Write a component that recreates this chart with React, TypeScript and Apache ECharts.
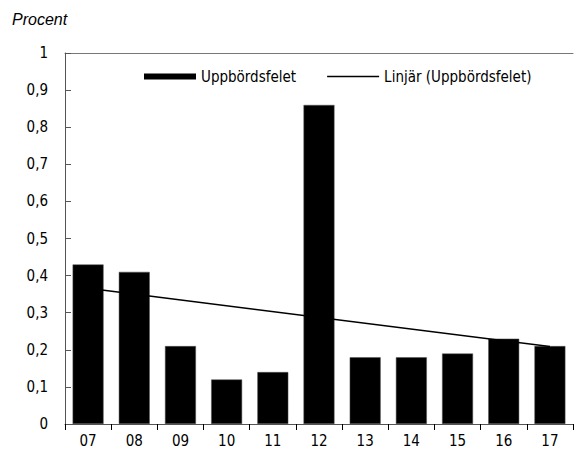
import React, { useEffect, useRef } from "react";
import * as echarts from "echarts";

const categories = ["07", "08", "09", "10", "11", "12", "13", "14", "15", "16", "17"];
const barValues = [0.43, 0.41, 0.21, 0.12, 0.14, 0.86, 0.18, 0.18, 0.19, 0.23, 0.21];
// Linear trend: start and end points
const trendValues = [0.366, null, null, null, null, null, null, null, null, null, 0.209];
const barName = "Uppbördsfelet";
const trendName = "Linjär (Uppbördsfelet)";
const yTitle = "Procent";

const FONT = "'DejaVu Sans Condensed', 'Liberation Sans Narrow', sans-serif";

export default function App() {
  const ref = useRef<HTMLDivElement>(null);
  useEffect(() => {
    if (!ref.current) return;
    const chart = echarts.init(ref.current, null, { renderer: "svg" });
    chart.setOption({
      animation: false,
      backgroundColor: "#fff",
      grid: { left: 65, top: 53, right: 1, bottom: 31 },
      graphic: [
        {
          type: "text",
          left: 12,
          top: 11,
          style: { text: yTitle, font: "italic 16px 'Liberation Sans', Arial, sans-serif", fill: "#000" },
        },
      ],
      legend: {
        left: 139,
        top: 64,
        itemWidth: 52,
        itemHeight: 6,
        itemGap: 31,
        textStyle: { fontFamily: FONT, fontSize: 15, color: "#000" },
        data: [
          { name: barName, icon: "rect", itemStyle: { borderWidth: 0, color: "#000" } },
          { name: trendName, icon: "path://M0,0 L100,0 L100,3 L0,3 Z", itemStyle: { color: "#000", borderWidth: 0 } },
        ],
      },
      xAxis: [
        {
          type: "category",
          data: categories,
          axisLine: { lineStyle: { color: "#555", width: 1 } },
          axisTick: { show: true, length: 6, lineStyle: { color: "#000" } },
          axisLabel: { fontFamily: FONT, fontSize: 15, color: "#000", margin: 9 },
        },
        {
          type: "category",
          position: "top",
          data: categories,
          axisLine: { show: true, lineStyle: { color: "#777", width: 1 } },
          axisTick: { show: false },
          axisLabel: { show: false },
        },
      ],
      yAxis: {
        type: "value",
        min: 0,
        max: 1,
        interval: 0.1,
        axisLine: { show: true, lineStyle: { color: "#555", width: 1 } },
        axisTick: { show: true, inside: true, length: 6, lineStyle: { color: "#555" } },
        splitLine: { show: false },
        axisLabel: {
          fontFamily: FONT,
          fontSize: 15,
          color: "#000",
          margin: 17,
          formatter: (v: number) => String(Math.round(v * 10) / 10).replace(".", ","),
        },
      },
      series: [
        {
          name: barName,
          type: "bar",
          data: barValues,
          barCategoryGap: "33%",
          itemStyle: { color: "#000", borderColor: "#555", borderWidth: 0.5 },
        },
        {
          name: trendName,
          type: "line",
          data: trendValues,
          connectNulls: true,
          symbol: "none",
          lineStyle: { color: "#000", width: 1.5 },
          itemStyle: { color: "#000" },
          z: 5,
        },
      ],
    });
    return () => chart.dispose();
  }, []);
  return <div ref={ref} style={{ width: 574, height: 455, position: "absolute", left: 0, top: 0 }} />;
}
